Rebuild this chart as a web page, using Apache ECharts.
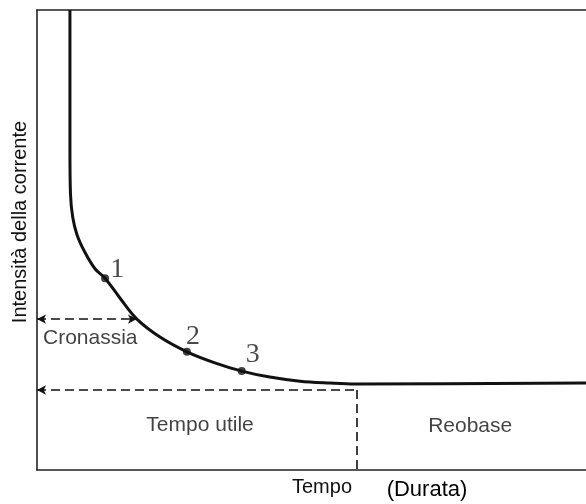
<!DOCTYPE html>
<html>
<head>
<meta charset="utf-8">
<script src="https://cdn.jsdelivr.net/npm/echarts@6/dist/echarts.min.js"></script>
<style>
  html, body { margin: 0; padding: 0; background: #fff; }
  #chart { width: 586px; height: 504px; }
</style>
</head>
<body>
<div id="chart"></div>
<script>
// curva intensità-durata (unità relative: tempo 0-100, intensità 0-100)
const curveTime = [6.0, 6.0, 6.1, 6.5, 7.3, 8.7, 10.6, 12.4, 15.1, 18.2, 22.4, 27.3, 32.4, 37.3, 42.4, 47.9, 53.4, 57.9, 100]
const curveIntensity = [100, 69.6, 60.0, 55.0, 51.1, 47.4, 43.7, 41.7, 37.4, 32.8, 28.9, 25.7, 23.3, 21.5, 20.2, 19.3, 18.9, 18.7, 18.9]

const pointNames = ['1', '2', '3']
const pointTime = [12.4, 27.3, 37.3]
const pointIntensity = [41.7, 25.7, 21.5]
const pointLabelAt = [[14.6, 43.5], [28.4, 28.9], [39.3, 25.0]]

const chronaxie = { time: 18.2, intensity: 32.8 }
const rheobase = { time: 58.3, intensity: 17.4 }

const areaLabels = ['Cronassia', 'Tempo utile', 'Reobase']
const areaLabelAt = [[9.7, 28.7], [29.7, 9.8], [78.9, 9.6]]

const axisColor = '#222'
const textColor = '#111'
const sans = 'Liberation Sans, Arial, sans-serif'
const dashed = [9, 5]

const chart = echarts.init(document.getElementById('chart'))

const hiddenAxis = {
  type: 'value', min: 0, max: 100,
  axisTick: { show: false }, axisLabel: { show: false }, splitLine: { show: false }
}

const option = {
  animation: false,
  backgroundColor: '#fff',
  grid: { show: false, left: 37, right: -2, top: 10, bottom: 34 },
  xAxis: [
    { ...hiddenAxis, position: 'bottom', axisLine: { show: true, onZero: false, lineStyle: { color: axisColor, width: 1.6 } } },
    { ...hiddenAxis, position: 'top', axisLine: { show: true, onZero: false, lineStyle: { color: axisColor, width: 1.6 } } }
  ],
  yAxis: [
    { ...hiddenAxis, position: 'left', axisLine: { show: true, onZero: false, lineStyle: { color: axisColor, width: 1.6 } } }
  ],
  series: [
    {
      type: 'line',
      data: curveTime.map((t, i) => [t, curveIntensity[i]]),
      smooth: 0.35,
      symbol: 'none',
      lineStyle: { color: '#111', width: 3 },
      markLine: {
        silent: true,
        symbolSize: [7, 9],
        label: { show: false },
        lineStyle: { color: '#111', width: 1.6, type: dashed },
        data: [
          [{ coord: [0, chronaxie.intensity], symbol: 'arrow' }, { coord: [chronaxie.time, chronaxie.intensity], symbol: 'arrow' }],
          [{ coord: [0, rheobase.intensity], symbol: 'arrow' }, { coord: [rheobase.time, rheobase.intensity], symbol: 'none' }],
          [{ coord: [rheobase.time, rheobase.intensity], symbol: 'none' }, { coord: [rheobase.time, 0], symbol: 'none' }]
        ]
      }
    },
    {
      type: 'scatter',
      data: pointTime.map((t, i) => [t, pointIntensity[i]]),
      symbolSize: 8,
      itemStyle: { color: '#111' }
    },
    {
      type: 'scatter',
      data: pointLabelAt.map((p, i) => ({ value: p, name: pointNames[i] })),
      symbolSize: 0,
      label: {
        show: true, position: 'inside', formatter: '{b}',
        fontFamily: 'Liberation Serif, Times New Roman, serif', fontSize: 28, color: '#1a1a1a'
      }
    },
    {
      type: 'scatter',
      data: areaLabelAt.map((p, i) => ({ value: p, name: areaLabels[i] })),
      symbolSize: 0,
      label: {
        show: true, position: 'inside', formatter: '{b}',
        fontFamily: sans, fontSize: 21, color: textColor
      }
    }
  ],
  graphic: [
    {
      type: 'text', x: 20, y: 222, rotation: Math.PI / 2,
      style: { text: 'Intensità della corrente', font: '20px ' + sans, fill: textColor, align: 'center', verticalAlign: 'middle' }
    },
    {
      type: 'text', x: 322, y: 487,
      style: { text: 'Tempo', font: '20px ' + sans, fill: textColor, align: 'center', verticalAlign: 'middle' }
    },
    {
      type: 'text', x: 427, y: 490,
      style: { text: '(Durata)', font: '22px ' + sans, fill: '#000', align: 'center', verticalAlign: 'middle' }
    }
  ]
}

chart.setOption(option)
</script>
</body>
</html>
